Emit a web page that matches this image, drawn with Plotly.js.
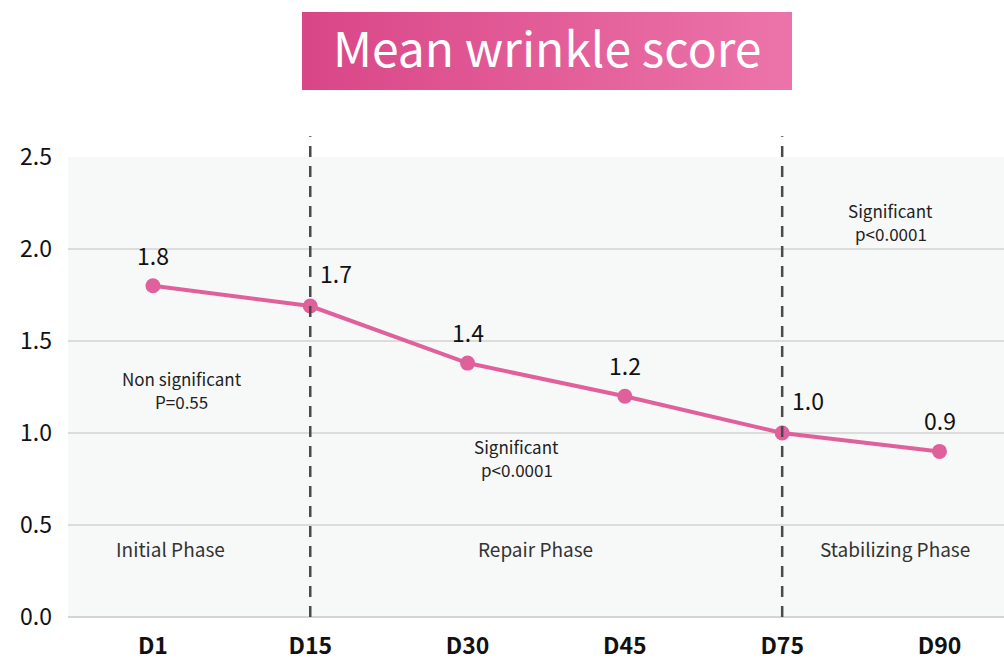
<!DOCTYPE html>
<html>
<head>
<meta charset="utf-8">
<script src="https://cdn.plot.ly/plotly-3.0.1.min.js"></script>
<style>
  body { margin: 0; background: #fff; }
  #chart { width: 1004px; height: 662px; }
</style>
</head>
<body>
<div id="chart"></div>
<script>
// data
const days = ['D1', 'D15', 'D30', 'D45', 'D75', 'D90'];
const scores = [1.8, 1.69, 1.38, 1.2, 1.0, 0.9];
const scoreLabels = ['1.8', '1.7', '1.4', '1.2', '1.0', '0.9'];
const phaseBounds = ['D15', 'D75'];
const phaseNames = ['Initial Phase', 'Repair Phase', 'Stabilizing Phase'];
const phaseNotes = ['Non significant', 'Significant', 'Significant'];
const phasePvals = ['P=0.55', 'p<0.0001', 'p<0.0001'];

const FONT = '"Noto Sans CJK SC", "Source Sans Pro", "Noto Sans", sans-serif';
const PINK = '#e0609c';

// gradient box behind the title
const gradSvg = '<svg xmlns="http://www.w3.org/2000/svg" width="490" height="78">' +
  '<defs><linearGradient id="g" x1="0" x2="1" y1="0" y2="0">' +
  '<stop offset="0" stop-color="#d94687"/><stop offset="1" stop-color="#ec74aa"/>' +
  '</linearGradient></defs><rect width="490" height="78" fill="url(#g)"/></svg>';

const trace = {
  x: days,
  y: scores,
  type: 'scatter',
  mode: 'lines+markers',
  line: { color: PINK, width: 4 },
  marker: { color: PINK, size: 15 },
  hoverinfo: 'skip',
  cliponaxis: false
};

// value labels, two of them sit up-right of the point
const labelShift = [0, 1, 0, 0, 1, 0];
const annotations = days.map((d, i) => ({
  x: d, y: scores[i], text: scoreLabels[i],
  xref: 'x', yref: 'y', showarrow: false,
  xshift: labelShift[i] ? 26 : 0, yshift: labelShift[i] ? 33 : 31,
  font: { family: FONT, size: 23, color: '#111' }
}));

// phase names and stats notes (two lines each, kept apart)
const phaseX = [0.114, 2.43, 4.717];
const noteX = [0.184, 2.314, 4.69];
const noteY = [1.234, 0.864, 2.147];
phaseNames.forEach((p, i) => {
  annotations.push({
    x: phaseX[i], y: 0.37, xref: 'x', yref: 'y', text: p, showarrow: false,
    font: { family: FONT, size: 19, color: '#333' }
  });
  annotations.push({
    x: noteX[i], y: noteY[i], xref: 'x', yref: 'y', text: phaseNotes[i], showarrow: false,
    yshift: 11.5, borderpad: 0, font: { family: FONT, size: 17, color: '#222' }
  });
  annotations.push({
    x: noteX[i], y: noteY[i], xref: 'x', yref: 'y', text: phasePvals[i], showarrow: false,
    yshift: -11.5, borderpad: 0, font: { family: FONT, size: 17, color: '#222' }
  });
});

const shapes = phaseBounds.map(d => ({
  type: 'line', xref: 'x', yref: 'paper', x0: d, x1: d, y0: 0, y1: 1.045,
  line: { color: '#4a4a4a', width: 2.5, dash: '11px,9px' }
}));

const layout = {
  width: 1004,
  height: 662,
  margin: { l: 68, r: 0, t: 157, b: 45 },
  paper_bgcolor: '#fff',
  plot_bgcolor: '#f7f9f8',
  showlegend: false,
  font: { family: FONT, color: '#111' },
  title: {
    text: 'Mean wrinkle score',
    x: 0.545, xanchor: 'center',
    y: 1 - 50 / 662, yanchor: 'middle', yref: 'container',
    font: { family: FONT, size: 48, color: '#fff' }
  },
  images: [{
    source: 'data:image/svg+xml;utf8,' + encodeURIComponent(gradSvg),
    xref: 'paper', yref: 'paper',
    x: (302 - 68) / 936, y: 1 + (157 - 12) / 460,
    sizex: 490 / 936, sizey: 78 / 460,
    sizing: 'stretch', layer: 'below'
  }],
  xaxis: {
    type: 'category',
    range: [-0.54, 5.41],
    showgrid: false,
    zeroline: false,
    showline: false,
    ticks: '',
    ticklabelstandoff: 13,
    tickfont: { family: FONT, size: 23, color: '#111', weight: 'bold' },
    fixedrange: true
  },
  yaxis: {
    range: [0, 2.5],
    dtick: 0.5,
    tickformat: '.1f',
    showgrid: true,
    gridcolor: '#dcdcdc',
    gridwidth: 1.5,
    zeroline: true,
    zerolinecolor: '#d4d4d4',
    zerolinewidth: 2,
    ticks: '',
    ticklabelstandoff: 15,
    tickfont: { family: FONT, size: 23, color: '#111' },
    fixedrange: true
  },
  annotations: annotations,
  shapes: shapes
};

Plotly.newPlot('chart', [trace], layout, { displayModeBar: false, staticPlot: true });
</script>
</body>
</html>
